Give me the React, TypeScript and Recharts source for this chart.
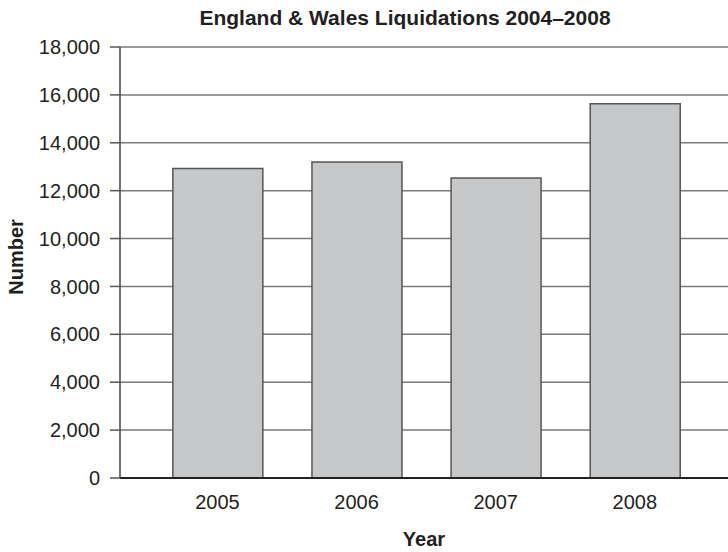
import { BarChart, Bar, XAxis, YAxis, CartesianGrid, Customized } from 'recharts';

const years = [2005, 2006, 2007, 2008];
const liquidations = [12930, 13200, 12530, 15630];
const yTicks = [0, 2000, 4000, 6000, 8000, 10000, 12000, 14000, 16000, 18000];

const data = years.map((year, i) => ({ year, count: liquidations[i] }));

const font = '"Liberation Sans", Arial, Helvetica, sans-serif';
const ink = '#231f20';

export default function App() {
  return (
    <div style={{ position: 'absolute', left: 0, top: 0, width: 728, height: 552, background: '#fff' }}>
      <BarChart
        width={728}
        height={552}
        data={data}
        margin={{ top: 47, right: 0, bottom: 0, left: 0 }}
      >
        <CartesianGrid vertical={false} stroke="#7a7a7a" strokeWidth={1.5} />
        <XAxis
          dataKey="year"
          type="number"
          domain={[2004.3, 2008.67]}
          ticks={years}
          height={74}
          tickLine={false}
          tickSize={0}
          tickMargin={17}
          axisLine={{ stroke: '#222', strokeWidth: 2 }}
          tick={{ fill: ink, fontSize: 20, fontFamily: font }}
          label={{
            value: 'Year',
            position: 'insideBottom',
            offset: 6,
            fill: ink,
            fontSize: 20,
            fontWeight: 'bold',
            fontFamily: font,
          }}
        />
        <YAxis
          width={120}
          domain={[0, 18000]}
          ticks={yTicks}
          tickSize={10}
          tickMargin={10}
          tickFormatter={(v: number) => v.toLocaleString('en-US')}
          axisLine={{ stroke: '#444', strokeWidth: 1.5 }}
          tickLine={{ stroke: '#555', strokeWidth: 1.5 }}
          tick={{ fill: ink, fontSize: 20, fontFamily: font }}
        />
        <Bar
          dataKey="count"
          barSize={90}
          fill="#c6c7c9"
          stroke="#555"
          strokeWidth={1.5}
          isAnimationActive={false}
        />
        <Customized
          component={() => (
            <g>
              <text
                x={405}
                y={25}
                textAnchor="middle"
                fill={ink}
                fontSize={21}
                fontWeight="bold"
                fontFamily={font}
              >
                England &amp; Wales Liquidations 2004–2008
              </text>
              <text
                x={23}
                y={257}
                transform="rotate(-90 23 257)"
                textAnchor="middle"
                fill={ink}
                fontSize={20}
                fontWeight="bold"
                fontFamily={font}
              >
                Number
              </text>
            </g>
          )}
        />
      </BarChart>
    </div>
  );
}
